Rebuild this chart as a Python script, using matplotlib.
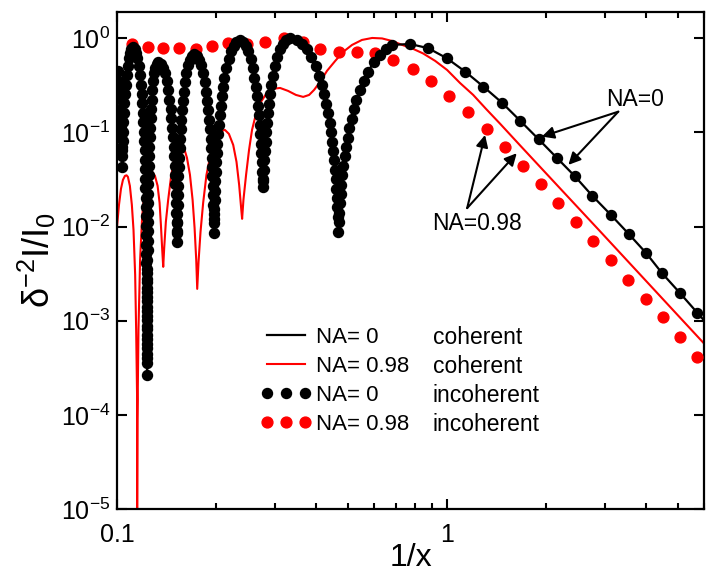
import numpy as np
import matplotlib
matplotlib.use("Agg")
import matplotlib.pyplot as plt
from matplotlib.ticker import NullFormatter, NullLocator, LogLocator

plt.rcParams['font.family'] = ['Liberation Sans', 'DejaVu Sans']
plt.rcParams['mathtext.fontset'] = 'custom'
plt.rcParams['mathtext.rm'] = 'Liberation Sans'
plt.rcParams['mathtext.it'] = 'Liberation Sans:italic'
plt.rcParams['mathtext.default'] = 'regular'

# values, written as (log10(1/x), log10(y))

# NA=0, incoherent (black dots); the coherent line runs through the same points
na0_inc = [
    # left edge -> first dip
    (-0.997, -0.35), (-0.995, -0.45), (-0.993, -0.55), (-0.992, -0.65), (-0.990, -0.75),
    (-0.989, -0.85), (-0.988, -0.95), (-0.987, -1.05), (-0.986, -1.15), (-0.985, -1.25),
    (-0.985, -1.366),
    (-0.984, -1.192), (-0.983, -1.092), (-0.982, -0.992), (-0.981, -0.892), (-0.979, -0.792),
    (-0.978, -0.692), (-0.976, -0.592), (-0.974, -0.492), (-0.971, -0.392), (-0.968, -0.292),
    (-0.964, -0.212), (-0.961, -0.152), (-0.957, -0.112), (-0.952, -0.092),
    # deep dip near 0.123
    (-0.946, -0.112), (-0.942, -0.152), (-0.938, -0.212), (-0.934, -0.292), (-0.930, -0.392),
    (-0.927, -0.492), (-0.925, -0.592), (-0.923, -0.692), (-0.921, -0.792), (-0.920, -0.892),
    (-0.918, -0.992), (-0.917, -1.092), (-0.916, -1.192), (-0.915, -1.292), (-0.915, -1.392),
    (-0.914, -1.492), (-0.914, -1.592), (-0.913, -1.692), (-0.912, -1.792), (-0.912, -1.892),
    (-0.912, -1.992), (-0.911, -2.092), (-0.911, -2.192), (-0.911, -2.292), (-0.911, -2.392),
    (-0.910, -2.492), (-0.910, -2.592), (-0.910, -2.692), (-0.910, -2.792), (-0.910, -2.892),
    (-0.910, -2.992), (-0.909, -3.092), (-0.909, -3.192), (-0.909, -3.292), (-0.909, -3.392),
    (-0.909, -3.574),
    (-0.909, -3.452), (-0.909, -3.352), (-0.909, -3.252), (-0.909, -3.152), (-0.909, -3.052),
    (-0.908, -2.952), (-0.908, -2.852), (-0.908, -2.752), (-0.908, -2.652), (-0.908, -2.552),
    (-0.908, -2.452), (-0.908, -2.352), (-0.907, -2.252), (-0.907, -2.152), (-0.907, -2.052),
    (-0.907, -1.952), (-0.906, -1.852), (-0.906, -1.752), (-0.905, -1.652), (-0.905, -1.552),
    (-0.904, -1.452), (-0.903, -1.352), (-0.903, -1.252), (-0.902, -1.152), (-0.901, -1.052),
    (-0.900, -0.952), (-0.898, -0.852), (-0.897, -0.752), (-0.895, -0.652), (-0.893, -0.552),
    (-0.890, -0.452), (-0.887, -0.372), (-0.884, -0.312), (-0.880, -0.272), (-0.876, -0.252),
    # dip near 0.152
    (-0.867, -0.272), (-0.861, -0.312), (-0.855, -0.372), (-0.850, -0.452), (-0.845, -0.552),
    (-0.841, -0.652), (-0.837, -0.752), (-0.835, -0.852), (-0.832, -0.952), (-0.830, -1.052),
    (-0.828, -1.152), (-0.826, -1.252), (-0.825, -1.352), (-0.824, -1.452), (-0.823, -1.552),
    (-0.822, -1.652), (-0.821, -1.752), (-0.820, -1.852), (-0.819, -1.952), (-0.819, -2.052),
    (-0.818, -2.163),
    (-0.818, -2.067), (-0.817, -1.967), (-0.817, -1.867), (-0.816, -1.767), (-0.815, -1.667),
    (-0.815, -1.567), (-0.814, -1.467), (-0.813, -1.367), (-0.812, -1.267), (-0.810, -1.167),
    (-0.809, -1.067), (-0.807, -0.967), (-0.805, -0.867), (-0.803, -0.767), (-0.801, -0.667),
    (-0.798, -0.567), (-0.794, -0.467), (-0.790, -0.367), (-0.785, -0.287), (-0.780, -0.227),
    (-0.774, -0.187), (-0.767, -0.167),
    # dip near 0.197
    (-0.758, -0.187), (-0.751, -0.227), (-0.745, -0.287), (-0.739, -0.367), (-0.734, -0.467),
    (-0.730, -0.567), (-0.726, -0.667), (-0.723, -0.767), (-0.721, -0.867), (-0.718, -0.967),
    (-0.716, -1.067), (-0.715, -1.167), (-0.713, -1.267), (-0.712, -1.367), (-0.711, -1.467),
    (-0.710, -1.567), (-0.709, -1.667), (-0.708, -1.767), (-0.707, -1.867), (-0.707, -1.967),
    (-0.706, -2.067),
    (-0.705, -1.918), (-0.705, -1.818), (-0.704, -1.718), (-0.703, -1.618), (-0.702, -1.518),
    (-0.700, -1.418), (-0.699, -1.318), (-0.698, -1.218), (-0.696, -1.118), (-0.694, -1.018),
    (-0.692, -0.918), (-0.689, -0.818), (-0.686, -0.718), (-0.683, -0.618), (-0.679, -0.518),
    (-0.675, -0.418), (-0.669, -0.318), (-0.662, -0.218), (-0.655, -0.138), (-0.647, -0.078),
    (-0.639, -0.038), (-0.627, -0.018),
    # dip near 0.277
    (-0.617, -0.038), (-0.609, -0.078), (-0.602, -0.138), (-0.595, -0.218), (-0.589, -0.318),
    (-0.584, -0.418), (-0.579, -0.518), (-0.576, -0.618), (-0.573, -0.718), (-0.570, -0.818),
    (-0.568, -0.918), (-0.566, -1.018), (-0.564, -1.118), (-0.563, -1.218), (-0.561, -1.318),
    (-0.560, -1.418), (-0.559, -1.518), (-0.558, -1.579),
    (-0.557, -1.497), (-0.555, -1.397), (-0.554, -1.297), (-0.552, -1.197), (-0.550, -1.097),
    (-0.548, -0.997), (-0.546, -0.897), (-0.543, -0.797), (-0.540, -0.697), (-0.536, -0.597),
    (-0.532, -0.497), (-0.527, -0.397), (-0.521, -0.297), (-0.514, -0.197), (-0.506, -0.117),
    (-0.497, -0.057), (-0.488, -0.017), (-0.476, 0.003),
    # dip near 0.467
    (-0.455, -0.017), (-0.439, -0.057), (-0.425, -0.117), (-0.411, -0.197), (-0.398, -0.297),
    (-0.388, -0.397), (-0.380, -0.497), (-0.372, -0.597), (-0.366, -0.697), (-0.361, -0.797),
    (-0.356, -0.897), (-0.352, -0.997), (-0.349, -1.097), (-0.346, -1.197), (-0.343, -1.297),
    (-0.341, -1.397), (-0.338, -1.497), (-0.336, -1.597), (-0.335, -1.697), (-0.333, -1.797),
    (-0.332, -1.897), (-0.330, -2.056),
    (-0.328, -1.955), (-0.327, -1.855), (-0.325, -1.755), (-0.322, -1.655), (-0.320, -1.555),
    (-0.317, -1.455), (-0.314, -1.355), (-0.310, -1.255), (-0.306, -1.155), (-0.301, -1.055),
    (-0.296, -0.955), (-0.289, -0.855), (-0.282, -0.755), (-0.275, -0.655), (-0.265, -0.555),
    (-0.253, -0.455), (-0.240, -0.355), (-0.222, -0.255), (-0.204, -0.175), (-0.185, -0.115),
    # decaying tail
    (-0.168, -0.071), (-0.112, -0.061), (-0.057, -0.106), (-0.001, -0.212), (0.055, -0.355),
    (0.110, -0.514), (0.166, -0.684), (0.221, -0.875), (0.277, -1.072), (0.332, -1.268),
    (0.386, -1.462), (0.440, -1.674), (0.496, -1.876), (0.550, -2.078), (0.603, -2.282),
    (0.651, -2.495), (0.704, -2.701), (0.757, -2.913),
]
na0_coh = na0_inc + [(0.779, -3.00)]

# NA=0.98, coherent (red line)
na98_coh = [
    (-1.000, -2.003), (-0.994, -1.770), (-0.988, -1.600), (-0.982, -1.504), (-0.976, -1.462),
    (-0.971, -1.456), (-0.967, -1.472), (-0.961, -1.568), (-0.955, -1.770), (-0.950, -2.035),
    (-0.945, -2.513), (-0.942, -3.097), (-0.939, -3.840), (-0.939, -5.200), (-0.938, -4.052),
    (-0.935, -3.097), (-0.930, -2.354), (-0.924, -1.908), (-0.918, -1.663), (-0.911, -1.504),
    (-0.903, -1.440), (-0.894, -1.419), (-0.885, -1.462), (-0.877, -1.568), (-0.871, -1.748),
    (-0.867, -1.982), (-0.863, -2.248), (-0.860, -2.428), (-0.857, -2.226), (-0.852, -1.950),
    (-0.845, -1.717), (-0.836, -1.462), (-0.826, -1.271), (-0.815, -1.165), (-0.806, -1.133),
    (-0.797, -1.165), (-0.788, -1.271), (-0.779, -1.451), (-0.771, -1.717), (-0.765, -2.014),
    (-0.760, -2.354), (-0.757, -2.662), (-0.753, -2.375), (-0.747, -2.056), (-0.739, -1.748),
    (-0.729, -1.451), (-0.715, -1.207), (-0.700, -1.058), (-0.685, -0.984), (-0.673, -0.974),
    (-0.661, -1.016), (-0.648, -1.133), (-0.638, -1.313), (-0.630, -1.557), (-0.624, -1.801),
    (-0.621, -1.918), (-0.617, -1.717), (-0.609, -1.451), (-0.600, -1.186), (-0.591, -0.974),
    (-0.579, -0.804), (-0.564, -0.676), (-0.548, -0.591), (-0.530, -0.538), (-0.506, -0.528),
    (-0.482, -0.559), (-0.458, -0.602), (-0.436, -0.623), (-0.418, -0.602), (-0.403, -0.549),
    (-0.385, -0.464), (-0.364, -0.347), (-0.339, -0.241), (-0.315, -0.145), (-0.288, -0.071),
    (-0.258, -0.018), (-0.227, 0.003), (-0.197, -0.002), (-0.167, -0.029), (-0.136, -0.071),
    (-0.106, -0.108), (-0.073, -0.161), (-0.036, -0.241), (0.000, -0.337), (0.039, -0.475),
    (0.079, -0.602), (0.118, -0.751), (0.161, -0.910), (0.221, -1.138), (0.342, -1.594),
    (0.464, -2.053), (0.585, -2.511), (0.706, -2.969), (0.779, -3.245),
]

# NA=0.98, incoherent (red dots)
na98_inc = [
    (-0.955, -0.061), (-0.906, -0.089), (-0.860, -0.108), (-0.811, -0.106), (-0.761, -0.117),
    (-0.711, -0.082), (-0.663, -0.053), (-0.607, -0.057), (-0.552, -0.036), (-0.494, 0.000),
    (-0.438, -0.039), (-0.385, -0.117), (-0.329, -0.142), (-0.274, -0.142), (-0.218, -0.159),
    (-0.163, -0.230), (-0.104, -0.329), (-0.048, -0.453), (0.007, -0.613), (0.064, -0.779),
    (0.120, -0.966), (0.176, -1.151), (0.229, -1.352), (0.284, -1.550), (0.335, -1.745),
    (0.389, -1.947), (0.443, -2.152), (0.497, -2.357), (0.548, -2.563), (0.602, -2.768),
    (0.654, -2.964), (0.704, -3.174), (0.758, -3.383),
]

legend_labels = ['NA= 0', 'NA= 0.98', 'NA= 0', 'NA= 0.98']
legend_kinds = ['coherent', 'coherent', 'incoherent', 'incoherent']

# arrow labels: text position, arrow tail, arrow tips (data units)
note_na0 = ('NA=0', (3.72, 0.221), (3.30, 0.166), [(1.936, 0.0902), (2.33, 0.0452)])
note_na98 = ('NA=0.98', (1.233, 0.0109), (1.15, 0.0157), [(1.303, 0.094), (1.625, 0.0601)])


def unlog(pairs):
    a = np.array(pairs)
    return 10 ** a[:, 0], 10 ** a[:, 1]


fig = plt.figure(figsize=(7.14, 5.78), dpi=100)
ax = fig.add_axes([117 / 714, 1 - 509 / 578, 587 / 714, 497 / 578])

x, y = unlog(na0_coh)
h1, = ax.plot(x, y, color='black', lw=1.6, zorder=3)
x, y = unlog(na98_coh)
h2, = ax.plot(x, y, color='red', lw=1.5, zorder=2)
x, y = unlog(na0_inc)
h3, = ax.plot(x, y, 'o', color='black', ms=7.2, ls='none', zorder=4)
x, y = unlog(na98_inc)
h4, = ax.plot(x, y, 'o', color='red', mec='red', ms=7.8, ls='none', zorder=3)

ax.set_xscale('log')
ax.set_yscale('log')
ax.set_xlim(0.1, 6.0)
ax.set_ylim(1e-5, 1.9)

ax.set_xticks([0.1, 1])
ax.set_xticklabels(['0.1', '1'])
ax.xaxis.set_minor_locator(LogLocator(base=10, subs=np.arange(2, 10)))
ax.xaxis.set_minor_formatter(NullFormatter())
ax.yaxis.set_major_locator(LogLocator(base=10, numticks=10))
ax.yaxis.set_minor_locator(NullLocator())

for s in ax.spines.values():
    s.set_linewidth(1.6)
ax.tick_params(which='both', direction='in', top=True, right=True, width=1.5)
ax.tick_params(which='major', length=7, labelsize=18)
ax.tick_params(which='minor', length=4)
ax.tick_params(axis='x', which='major', pad=10)
ax.tick_params(axis='y', which='major', pad=5)

ax.set_xlabel('1/x', fontsize=23, labelpad=-3)
ax.set_ylabel(r'$\delta^{-2}$I/I$_0$', fontsize=26, labelpad=2)

leg = ax.legend([h1, h2, h3, h4], legend_labels, loc='upper left',
                bbox_to_anchor=(0.245, 0.366), frameon=False, fontsize=16,
                numpoints=3, handlelength=2.3, handletextpad=0.2,
                labelspacing=0.36, borderpad=0, borderaxespad=0)

# second legend column, aligned on the legend rows
fig.canvas.draw()
inv = ax.transAxes.inverted()
for t, kind in zip(leg.get_texts(), legend_kinds):
    bb = t.get_window_extent()
    yc = inv.transform((0, (bb.y0 + bb.y1) / 2))[1]
    ax.text(0.538, yc, kind, transform=ax.transAxes,
            fontsize=16.5, va='center', ha='left')

for label, pos, tail, tips in [note_na0, note_na98]:
    ax.text(pos[0], pos[1], label, fontsize=16.5, ha='center', va='center')
    for tip in tips:
        ax.annotate('', xy=tip, xytext=tail,
                    arrowprops=dict(arrowstyle='-|>', color='black', lw=1.5,
                                    mutation_scale=18, shrinkA=0, shrinkB=0))

fig.savefig('out.png', dpi=100)
